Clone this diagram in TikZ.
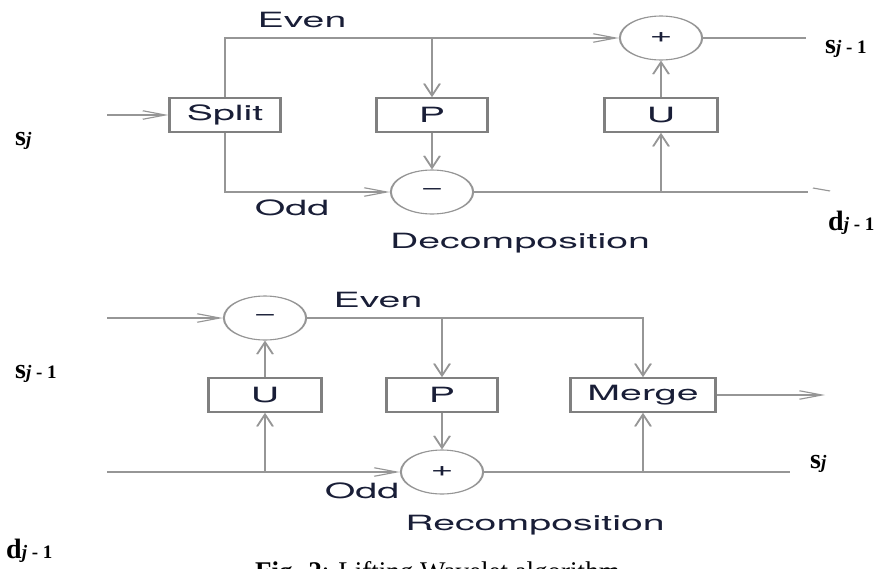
\documentclass[tikz,border=0pt]{standalone}
\usepackage{fontspec}
\usepackage{graphicx}
\setmainfont{Liberation Serif}
\newfontfamily\diagfont{TeX Gyre Heros}
\usetikzlibrary{arrows.meta}

\definecolor{wire}{RGB}{150,150,150}
\definecolor{frame}{RGB}{128,128,128}
\definecolor{ink}{RGB}{25,30,55}

% signal names: bold letter followed by a smaller index
\newcommand{\signame}[2]{{\fontsize{28}{28}\selectfont\bfseries #1{\fontsize{19}{19}\selectfont #2}}}

\begin{document}
\begin{tikzpicture}[x=1pt,y=-1pt]
\useasboundingbox (0,0) rectangle (881,568);
\clip (0,0) rectangle (881,568);

% block diagrams, drawn narrow and stretched sideways
\begin{scope}[transform canvas={xscale=1.87}, x=0.53476pt, y=-1pt,
  wire/.style={draw=wire, line width=1.1pt},
  arr/.style={wire, -{Straight Barb[length=12pt,width=8.5pt]}},
  box/.style={draw=frame, line width=1.6pt, fill=white, minimum height=34pt,
    inner sep=0pt, font=\diagfont\fontsize{21}{21}\selectfont, text=ink},
  sum/.style={circle, draw=wire, line width=1.1pt, fill=white, minimum size=44pt,
    inner sep=0pt, font=\diagfont\fontsize{21}{21}\selectfont, text=ink},
  lbl/.style={inner sep=0pt, anchor=base, font=\diagfont\fontsize{21}{21}\selectfont, text=ink}]

  % ---- decomposition ----
  \node[box, minimum width=59pt] (split) at (225,115) {Split};
  \node[box, minimum width=59pt] (p1) at (432,115) {P};
  \node[box, minimum width=60pt] (u1) at (661,115) {U};
  \node[sum] (sub1) at (432,192) {−};
  \node[sum] (add1) at (661,38) {+};

  \coordinate (in1) at (107,115);
  \coordinate (ev1) at (225,38);
  \coordinate (od1) at (225,192);
  \coordinate (tap1) at (432,38);
  \coordinate (tap2) at (661,192);
  \coordinate (out1) at (806,38);
  \coordinate (out2) at (808,192);
  \coordinate (nick1) at (813,188);
  \coordinate (nick2) at (830,191);

  \draw[arr] (in1) -- (split);
  \draw[arr] (split.north) -- (ev1) -- (add1);
  \draw[arr] (tap1) -- (p1);
  \draw[arr] (p1) -- (sub1);
  \draw[arr] (split.south) -- (od1) -- (sub1);
  \draw[wire] (sub1) -- (out2);
  \draw[wire] (nick1) -- (nick2);
  \draw[arr] (tap2) -- (u1);
  \draw[arr] (u1) -- (add1);
  \draw[wire] (add1) -- (out1);

  \node[lbl] at (302,27) {Even};
  \node[lbl] at (292,215) {Odd};
  \node[lbl] at (520,248) {Decomposition};

  % ---- recomposition ----
  \node[sum] (sub2) at (265,318) {−};
  \node[box, minimum width=60pt] (u2) at (265,395) {U};
  \node[box, minimum width=59pt] (p2) at (442,395) {P};
  \node[box, minimum width=78pt] (merge) at (643,395) {Merge};
  \node[sum] (add2) at (442,472) {+};

  \coordinate (in3) at (107,318);
  \coordinate (in4) at (107,472);
  \coordinate (tap3) at (442,318);
  \coordinate (corner) at (643,318);
  \coordinate (tap4) at (265,472);
  \coordinate (tap5) at (643,472);
  \coordinate (out3) at (825,395);
  \coordinate (out4) at (790,472);

  \draw[arr] (in3) -- (sub2);
  \draw[arr] (sub2) -- (corner) -- (merge);
  \draw[arr] (tap3) -- (p2);
  \draw[arr] (p2) -- (add2);
  \draw[arr] (in4) -- (add2);
  \draw[arr] (tap4) -- (u2);
  \draw[arr] (u2) -- (sub2);
  \draw[wire] (add2) -- (out4);
  \draw[arr] (tap5) -- (merge);
  \draw[arr] (merge) -- (out3);

  \node[lbl] at (378,307) {Even};
  \node[lbl] at (362,498) {Odd};
  \node[lbl] at (535,530) {Recomposition};
\end{scope}

% signal names
\node[inner sep=0pt, anchor=base west] (sj1) at (15,145) {\signame{s}{\textit{j}}};
\node[inner sep=0pt, anchor=base west] (sm1) at (825,53) {\signame{s}{\textit{j} - 1}};
\node[inner sep=0pt, anchor=base west] (dm1) at (828,230) {\signame{d}{\textit{j} - 1}};
\node[inner sep=0pt, anchor=base west] (sm2) at (15,378) {\signame{s}{\textit{j} - 1}};
\node[inner sep=0pt, anchor=base west] (dm2) at (6,558) {\signame{d}{\textit{j} - 1}};
\node[inner sep=0pt, anchor=base west] (sj2) at (810,468) {\signame{s}{\textit{j}}};

% caption
\node[inner sep=0pt, anchor=base west] (cap) at (255,580)
  {\fontsize{27}{27}\selectfont\textbf{Fig. 2}: Lifting Wavelet algorithm};
\end{tikzpicture}
\end{document}
